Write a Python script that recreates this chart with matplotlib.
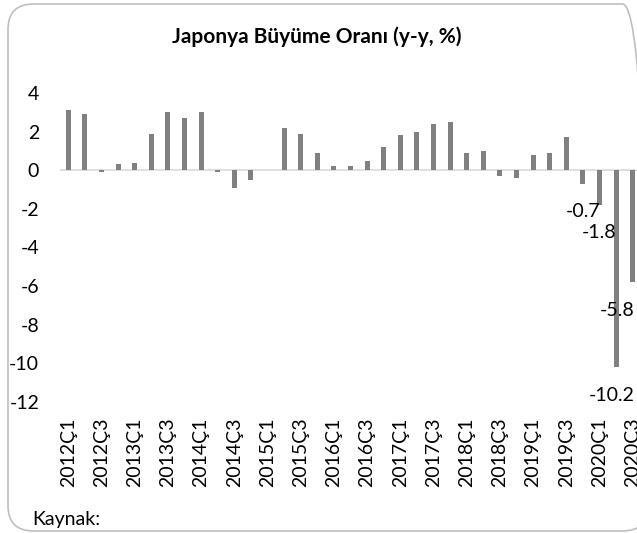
import matplotlib
matplotlib.use("Agg")
import matplotlib.pyplot as plt
from matplotlib.patches import FancyBboxPatch

# Datos: crecimiento trimestral (y-y, %)
years = list(range(2012, 2021))
quarters = [f"{y}Ç{q}" for y in years for q in range(1, 5)][:35]
values = [3.1, 2.9, -0.1, 0.3, 0.4, 1.9, 3.0, 2.7, 3.0, -0.1, -0.9, -0.5,
          0.0, 2.2, 1.9, 0.9, 0.2, 0.2, 0.5, 1.2, 1.8, 2.0, 2.4, 2.5,
          0.9, 1.0, -0.3, -0.4, 0.8, 0.9, 1.7, -0.7, -1.8, -10.2, -5.8]
labeled = {31: "-0.7", 32: "-1.8", 33: "-10.2", 34: "-5.8"}

plt.rcParams["font.family"] = ["Lato", "DejaVu Sans"]
FS = 14

W, H = 637, 533
fig = plt.figure(figsize=(W / 100, H / 100), dpi=100)
ax = fig.add_axes([60 / W, 1 - 402 / H, 581 / W, 309 / H])

x = list(range(len(values)))
ax.bar(x, values, width=0.3, color="#808080", zorder=2)
ax.axhline(0, color="#d9d9d9", lw=1.2, zorder=1)

# las dos ultimas etiquetas se corren un poco para que entren en el grafico
shift = {33: -3, 34: -11}
for i, txt in labeled.items():
    ax.annotate(txt, (i, values[i]), xytext=(shift.get(i, 0), -20),
                textcoords="offset points", ha="center", va="center",
                fontsize=FS, color="black")

ax.set_xlim(-0.5, len(values) - 0.5)
ax.set_ylim(-12, 4)
ax.set_yticks(range(-12, 5, 2))
ax.set_yticklabels([str(v) for v in range(-12, 5, 2)], fontsize=FS)
ax.set_xticks(x[::2])
ax.set_xticklabels(quarters[::2], rotation=90, fontsize=FS)
ax.tick_params(axis="both", length=0)
ax.tick_params(axis="y", pad=15)
ax.tick_params(axis="x", pad=11)
for s in ax.spines.values():
    s.set_visible(False)

fig.text(317 / W, 1 - 37 / H, "Japonya Büyüme Oranı (y-y, %)", ha="center",
         va="center", fontsize=15, fontweight="bold")
fig.text(32 / W, 1 - 520 / H, "Kaynak:", ha="left", va="center", fontsize=FS)

frame = FancyBboxPatch((8 / W, 2 / H), 640 / W, 527 / H,
                       boxstyle="round,pad=0,rounding_size=0.04",
                       transform=fig.transFigure, fill=False,
                       edgecolor="#bfbfbf", lw=1.2, mutation_aspect=W / H)
fig.patches.append(frame)

fig.savefig("out.png", dpi=100)
